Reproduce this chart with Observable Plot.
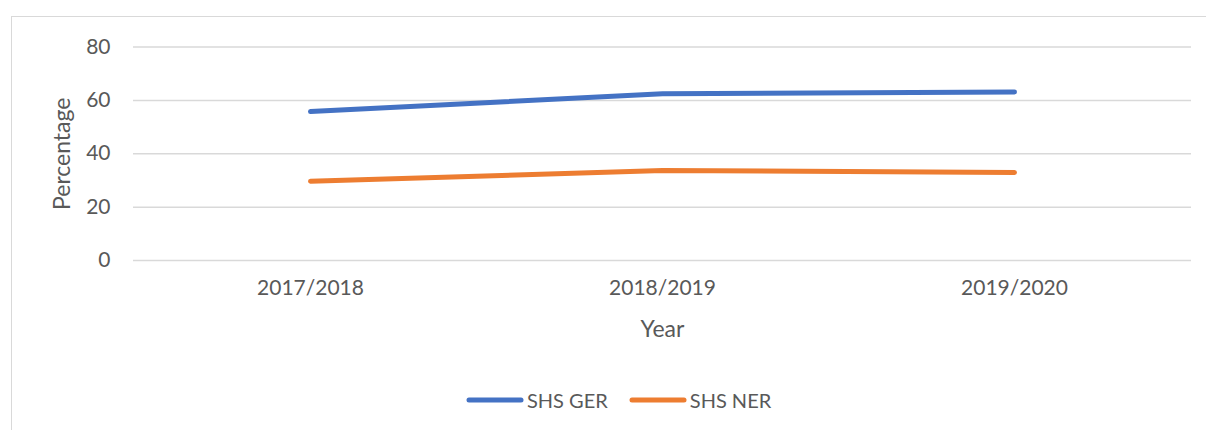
<!DOCTYPE html>
<html><head><meta charset="utf-8">
<script src="https://cdn.jsdelivr.net/npm/d3@7"></script>
<script src="https://cdn.jsdelivr.net/npm/@observablehq/plot@0.6"></script>
<style>
body{margin:0;width:1206px;height:430px;overflow:hidden;background:#fff;font-family:Lato,sans-serif;}
#wrap{position:relative;width:1206px;height:430px;overflow:hidden;}
#frame{position:absolute;left:11px;top:16px;width:1300px;height:500px;border:1.5px solid #d9d9d9;box-sizing:border-box;}
#chart{position:absolute;left:0;top:0;}
#chart g[aria-label="y-axis label"] text, #chart g[aria-label="x-axis label"] text{font-size:23px;}
#legend{position:absolute;top:388px;left:466px;display:flex;align-items:center;color:#595959;font-size:20px;font-family:Lato,sans-serif;white-space:nowrap;}
#legend .item{display:flex;align-items:center;margin-right:21px;}
#legend svg{margin-right:3px;}
</style></head>
<body>
<div id="wrap"><div id="frame"></div><div id="chart"></div><div id="legend"></div></div>
<script>
const years = ["2017/2018", "2018/2019", "2019/2020"];
const seriesNames = ["SHS GER", "SHS NER"];
const gerValues = [55.8, 62.5, 63.1];
const nerValues = [29.7, 33.7, 33.0];
const yTicks = [0, 20, 40, 60, 80];
const colors = ["#4472C4", "#ED7D31"];

const data = [];
years.forEach((y, i) => data.push({year: y, series: seriesNames[0], value: gerValues[i]}));
years.forEach((y, i) => data.push({year: y, series: seriesNames[1], value: nerValues[i]}));

const chart = Plot.plot({
  width: 1206,
  height: 430,
  marginLeft: 133,
  marginRight: 15,
  marginTop: 46.5,
  marginBottom: 170,
  style: {fontFamily: "Lato, sans-serif", fontSize: "21px", color: "#595959", background: "transparent"},
  x: {type: "point", domain: years, padding: 0.5},
  y: {domain: [0, 80]},
  color: {domain: seriesNames, range: colors},
  marks: [
    Plot.gridY(yTicks, {stroke: "#d9d9d9", strokeOpacity: 1, strokeWidth: 1.5}),
    Plot.axisY(yTicks, {tickSize: 0, tickPadding: 23, fontSize: 21, fill: "#595959",
      label: "Percentage", labelAnchor: "center", labelOffset: 80, labelArrow: "none"}),
    Plot.axisX({tickSize: 0, tickPadding: 20, fontSize: 21, fill: "#595959",
      label: "Year", labelAnchor: "center", labelOffset: 76, labelArrow: "none"}),
    Plot.line(data, {x: "year", y: "value", z: "series", stroke: "series", strokeWidth: 5,
      strokeLinecap: "round", strokeLinejoin: "round", curve: "linear"})
  ]
});
document.getElementById("chart").appendChild(chart);

const legend = document.getElementById("legend");
seriesNames.forEach((name, i) => {
  const item = document.createElement("div");
  item.className = "item";
  item.innerHTML = `<svg width="58" height="10"><line x1="3" y1="5" x2="55" y2="5" stroke="${colors[i]}" stroke-width="5" stroke-linecap="round"/></svg><span>${name}</span>`;
  legend.appendChild(item);
});
</script>
</body></html>
